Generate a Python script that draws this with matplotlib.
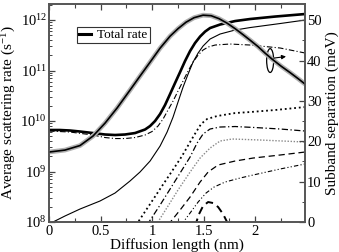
import numpy as np
import matplotlib
matplotlib.use('Agg')
import matplotlib.pyplot as plt
from matplotlib.patches import Ellipse
from matplotlib.ticker import MultipleLocator, LogLocator, NullFormatter
from matplotlib.lines import Line2D

plt.rcParams['font.family'] = ['Liberation Serif', 'DejaVu Serif']
plt.rcParams['mathtext.fontset'] = 'custom'
plt.rcParams['mathtext.rm'] = 'Liberation Serif'
plt.rcParams['mathtext.it'] = 'Liberation Serif:italic'

# ---------------- data ----------------
# Total scattering rate (log10 of s^-1)
total_x = [0.000, 0.107, 0.204, 0.301, 0.427, 0.544, 0.641, 0.738, 0.835, 0.932, 0.981, 1.029,
           1.078, 1.126, 1.175, 1.223, 1.272, 1.320, 1.369, 1.417, 1.466, 1.515, 1.563, 1.660,
           1.806, 1.951, 2.194, 2.485]
total_log = [9.822, 9.822, 9.812, 9.792, 9.762, 9.733, 9.723, 9.733, 9.762, 9.832, 9.901, 10.000,
             10.139, 10.317, 10.535, 10.752, 10.970, 11.188, 11.386, 11.545, 11.673, 11.772, 11.842, 11.911,
             11.980, 12.020, 12.069, 12.119]

# Dash-dot rate component
dd_x = [0.000, 0.204, 0.427, 0.544, 0.641, 0.738, 0.835, 0.932, 1.000, 1.058, 1.107, 1.155,
        1.204, 1.252, 1.301, 1.350, 1.398, 1.447, 1.495, 1.544, 1.612, 1.757, 1.951, 2.243, 2.485]
dd_log = [9.802, 9.782, 9.723, 9.673, 9.653, 9.653, 9.673, 9.723, 9.792, 9.901, 10.040, 10.218,
          10.396, 10.594, 10.792, 10.990, 11.168, 11.307, 11.406, 11.465, 11.505, 11.525, 11.505, 11.446, 11.347]

# Thin solid rate component
thin_x = [0.039, 0.155, 0.301, 0.495, 0.641, 0.786, 0.883, 0.981, 1.078, 1.146, 1.204, 1.252,
          1.301, 1.350, 1.398, 1.447, 1.495, 1.563, 1.660, 1.806, 1.951, 2.243, 2.485]
thin_log = [8.000, 8.119, 8.257, 8.416, 8.574, 8.812, 8.990, 9.208, 9.505, 9.782, 10.079, 10.376,
            10.673, 10.931, 11.168, 11.347, 11.485, 11.624, 11.723, 11.802, 11.851, 11.931, 12.000]

# Lower rate components
l1_x = [0.845, 0.981, 1.097, 1.214, 1.291, 1.369, 1.427, 1.476, 1.534, 1.631, 1.806, 1.951, 2.194, 2.485]
l1_log = [7.940, 8.356, 8.713, 9.069, 9.307, 9.584, 9.782, 9.941, 10.040, 10.099, 10.158, 10.178, 10.218, 10.277]

l2_x = [0.951, 1.078, 1.175, 1.272, 1.369, 1.437, 1.495, 1.563, 1.660, 1.806, 2.000, 2.243, 2.485]
l2_log = [7.941, 8.337, 8.653, 8.970, 9.287, 9.564, 9.743, 9.842, 9.881, 9.891, 9.871, 9.842, 9.802]

l3_x = [1.039, 1.155, 1.252, 1.369, 1.466, 1.563, 1.660, 1.777, 2.049, 2.485]
l3_log = [7.941, 8.317, 8.634, 8.990, 9.267, 9.465, 9.604, 9.644, 9.624, 9.584]

l4_x = [1.155, 1.272, 1.369, 1.466, 1.544, 1.641, 1.806, 1.981, 2.243, 2.485]
l4_log = [7.941, 8.238, 8.495, 8.792, 8.990, 9.129, 9.208, 9.267, 9.327, 9.386]

l5_x = [1.282, 1.369, 1.447, 1.524, 1.602, 1.709, 1.854, 1.981, 2.243, 2.485]
l5_log = [7.941, 8.178, 8.396, 8.574, 8.693, 8.792, 8.871, 8.931, 9.050, 9.149]

l6_x = [1.417, 1.456, 1.495, 1.544, 1.592, 1.641, 1.689, 1.738]
l6_log = [7.921, 8.158, 8.317, 8.396, 8.376, 8.297, 8.158, 7.960]

# Subband separation (meV), right axis
sep_x = [0.000, 0.155, 0.301, 0.427, 0.544, 0.660, 0.786, 0.883, 0.981, 1.078, 1.175, 1.252,
         1.330, 1.408, 1.495, 1.573, 1.650, 1.728, 1.806, 1.883, 1.951, 2.029, 2.097, 2.165,
         2.252, 2.340, 2.417, 2.485]
sep_mev = [17.33, 17.82, 18.94, 21.29, 24.50, 28.22, 32.67, 36.14, 39.60, 43.07, 46.04, 47.90,
           49.50, 50.62, 51.24, 51.11, 50.37, 49.26, 47.90, 46.41, 45.05, 43.44, 41.83, 40.35,
           38.61, 37.00, 35.52, 34.16]

x_ticks = [0, 0.5, 1, 1.5, 2]
x_tick_labels = ['0', '0.5', '1', '1.5', '2']
right_ticks = [0, 10, 20, 30, 40, 50]

# ---------------- figure ----------------
fig = plt.figure(figsize=(3.39, 2.52), dpi=100)
ax = fig.add_axes([0.1445, 0.119, 0.7555, 0.865])
ax2 = ax.twinx()

def r(v):
    return 10 ** np.asarray(v)

ax.plot(l1_x, r(l1_log), color='black', lw=1.3, ls=(0, (1, 1.6)))
ax.plot(l2_x, r(l2_log), color='black', lw=0.9, ls=(0, (5, 2, 1, 2)))
ax.plot(l3_x, r(l3_log), color='#888888', lw=1.0, ls=(0, (1, 1.2)))
ax.plot(l4_x, r(l4_log), color='black', lw=0.9, ls=(0, (5, 3)))
ax.plot(l5_x, r(l5_log), color='black', lw=0.8, ls=(0, (4, 2, 1, 2, 1, 2)))
ax.plot(l6_x, r(l6_log), color='black', lw=1.4, ls=(0, (4, 2.5)))
ax.plot(thin_x, r(thin_log), color='black', lw=0.8)
ax.plot(dd_x, r(dd_log), color='black', lw=0.8, ls=(0, (5, 2, 1, 2)))
ax.plot(total_x, r(total_log), color='black', lw=1.9, label='Total rate')

ax.set_yscale('log')
ax.set_xlim(0, 2.485)
ax.set_ylim(1e8, 10 ** 12.317)
ax.set_xticks(x_ticks)
ax.set_xticklabels(x_tick_labels)
ax.xaxis.set_minor_locator(MultipleLocator(0.25))
ax.yaxis.set_major_locator(LogLocator(base=10, numticks=10))
ax.yaxis.set_minor_locator(LogLocator(base=10, subs=np.arange(2, 10), numticks=20))
ax.yaxis.set_minor_formatter(NullFormatter())
ax.tick_params(axis='both', which='both', direction='in', labelsize=10.5, colors='#444444',
               labelcolor='black')
ax.tick_params(axis='x', which='both', top=True)
ax.tick_params(axis='x', which='major', length=4.5, width=0.9, pad=2)
ax.tick_params(axis='x', which='minor', length=3, width=0.8)
ax.tick_params(axis='y', which='major', length=4.5, width=0.9, pad=1.5)
ax.tick_params(axis='y', which='minor', length=2.5, width=0.7)
ax.set_xlabel('Diffusion length (nm)', fontsize=11, labelpad=0)
ax.set_ylabel('Average scattering rate (s$^{-1}$)', fontsize=11, labelpad=2)

# right axis: subband separation
ax2.plot(sep_x, sep_mev, color='#b0b0b0', lw=3.4, solid_capstyle='butt', solid_joinstyle='round')
ax2.plot(sep_x, sep_mev, color='black', lw=1.2)
ax2.set_ylim(0, 54)
ax2.set_yticks(right_ticks)
ax2.yaxis.set_minor_locator(MultipleLocator(5))
ax2.tick_params(axis='y', which='both', direction='in', labelsize=10.5, colors='#444444',
                labelcolor='black')
ax2.tick_params(axis='y', which='major', length=4.5, width=0.9, pad=1.5)
ax2.tick_params(axis='y', which='minor', length=2.5, width=0.7)
ax2.set_ylabel('Subband separation (meV)', fontsize=11, labelpad=3)

for a in (ax, ax2):
    for s in a.spines.values():
        s.set_color('#555555')
        s.set_linewidth(1.2)

# ellipse + arrow marking the right-axis curve
ell = Ellipse((2.146, 40.0), width=0.068, height=5.9, fill=False, edgecolor='black', lw=0.9)
ax2.add_patch(ell)
ax2.annotate('', xy=(2.30, 41.0), xytext=(2.18, 40.6),
             arrowprops=dict(arrowstyle='-|>', color='black', lw=0.8,
                             mutation_scale=6, shrinkA=0, shrinkB=0))

handle = Line2D([], [], color='black', lw=2.2)
leg = ax.legend([handle], ['Total rate'], loc='upper left', bbox_to_anchor=(0.109, 0.895),
                borderaxespad=0, fontsize=9.5, handlelength=0.9, handletextpad=0.5,
                borderpad=0.15, frameon=True, fancybox=False, framealpha=1)
leg.get_frame().set_edgecolor('#333333')
leg.get_frame().set_linewidth(0.8)

fig.savefig('out.png', dpi=100)
